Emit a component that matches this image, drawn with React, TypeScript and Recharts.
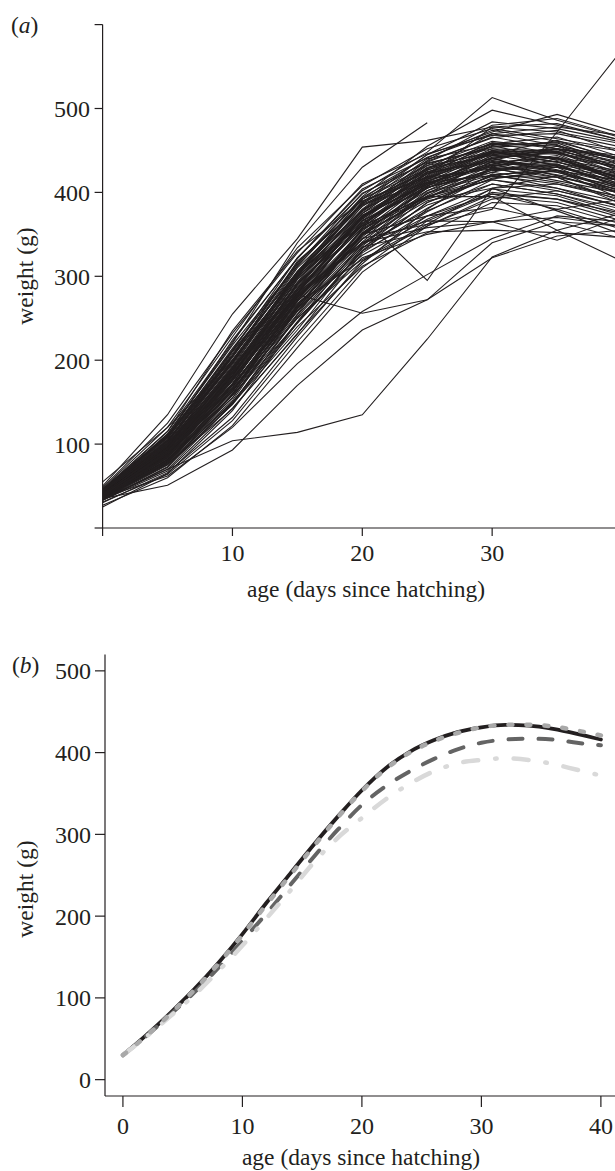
import React from "react";
import { Line, LineChart, XAxis, YAxis } from "recharts";

// panel (a): individual birds, weighed every 5 days
const days = [0, 5, 10, 15, 20, 25, 30, 35, 40];

const typicalBirds: number[][] = [
  [38, 92, 182, 280, 372, 416, 448, 436, 421],
  [42, 104, 196, 305, 378, 432, 447, 452, 426],
  [35, 78, 163, 261, 356, 398, 440, 427, 409],
  [40, 97, 187, 296, 368, 425, 436, 441, 412],
  [45, 112, 218, 314, 399, 436, 466, 452, 444],
  [33, 73, 148, 254, 336, 399, 421, 426, 392],
  [41, 86, 175, 271, 366, 405, 442, 448, 420],
  [37, 88, 162, 274, 351, 406, 424, 412, 394],
  [44, 102, 208, 306, 392, 428, 459, 455, 441],
  [36, 81, 152, 262, 341, 402, 428, 433, 405],
  [39, 87, 181, 278, 371, 411, 433, 418, 403],
  [43, 100, 192, 302, 375, 429, 444, 446, 414],
  [34, 70, 148, 236, 334, 381, 422, 405, 388],
  [40, 95, 182, 292, 361, 414, 438, 455, 428],
  [46, 109, 224, 321, 404, 441, 474, 461, 449],
  [38, 89, 167, 276, 354, 412, 432, 437, 409],
  [41, 93, 191, 286, 379, 418, 450, 431, 408],
  [35, 84, 159, 266, 344, 406, 426, 430, 397],
  [39, 86, 179, 274, 364, 408, 444, 441, 431],
  [42, 105, 197, 306, 379, 434, 454, 457, 424],
  [37, 80, 171, 264, 356, 394, 429, 414, 399],
  [44, 110, 206, 316, 386, 440, 457, 459, 432],
  [36, 82, 155, 259, 338, 400, 424, 440, 417],
  [40, 91, 189, 283, 371, 412, 448, 436, 418],
  [33, 68, 143, 231, 328, 377, 415, 402, 383],
  [43, 101, 189, 299, 372, 424, 446, 462, 437],
  [38, 85, 177, 272, 366, 410, 441, 424, 405],
  [41, 99, 186, 297, 370, 427, 445, 449, 422],
  [45, 103, 211, 304, 389, 424, 456, 438, 423],
  [37, 87, 163, 270, 347, 408, 431, 442, 413],
  [39, 89, 185, 281, 369, 415, 449, 440, 425],
  [34, 78, 149, 252, 333, 395, 419, 418, 389],
  [42, 98, 199, 293, 384, 422, 458, 466, 442],
  [40, 94, 181, 290, 366, 423, 438, 430, 413],
  [36, 79, 166, 259, 349, 396, 433, 421, 408],
  [47, 120, 228, 334, 408, 452, 476, 464, 451],
  [38, 90, 172, 283, 358, 414, 434, 444, 415],
  [41, 92, 190, 285, 375, 417, 450, 447, 433],
  [35, 82, 155, 264, 349, 410, 433, 434, 405],
  [43, 101, 205, 300, 387, 426, 459, 446, 429],
  [30, 66, 132, 228, 318, 372, 404, 396, 372],
  [39, 93, 176, 285, 360, 418, 440, 452, 436],
  [44, 107, 203, 310, 383, 435, 452, 440, 412],
  [37, 84, 170, 267, 357, 402, 437, 426, 401],
  [48, 125, 232, 328, 410, 446, 468, 470, 454],
  [40, 88, 184, 279, 373, 409, 444, 433, 420],
  [36, 77, 160, 255, 351, 393, 427, 432, 410],
  [42, 97, 194, 301, 377, 430, 449, 441, 416],
  [31, 64, 128, 222, 310, 366, 398, 392, 375],
  [45, 108, 214, 312, 394, 437, 465, 474, 447],
  [38, 83, 168, 262, 352, 405, 436, 420, 398],
  [41, 96, 192, 288, 371, 422, 441, 448, 427],
  [27, 60, 122, 215, 305, 360, 395, 388, 366],
  [43, 104, 200, 303, 386, 419, 452, 449, 435],
  [39, 87, 172, 281, 358, 416, 430, 424, 402],
  [34, 75, 147, 245, 331, 388, 417, 426, 404],
  [46, 115, 222, 322, 398, 442, 470, 456, 438],
  [40, 90, 178, 277, 363, 407, 447, 451, 430],
  [36, 76, 150, 246, 340, 385, 410, 398, 380],
  [44, 106, 212, 316, 392, 432, 461, 452, 440],
  [38, 85, 170, 265, 345, 390, 405, 378, 350],
  [40, 92, 180, 275, 350, 372, 382, 365, 345],
  [35, 78, 158, 250, 322, 350, 365, 370, 360],
  [37, 80, 165, 258, 335, 353, 355, 352, 346],
  [42, 96, 188, 280, 340, 366, 365, 380, 392],
  [36, 80, 150, 240, 312, 352, 388, 384, 362],
  [39, 86, 170, 262, 325, 368, 400, 392, 370],
  [41, 90, 165, 250, 318, 360, 392, 402, 384],
  [37, 84, 158, 244, 330, 372, 398, 380, 356],
  [43, 98, 185, 276, 338, 378, 410, 398, 376],
  [40, 95, 178, 268, 320, 362, 405, 410, 392],
  [46, 110, 205, 300, 362, 420, 478, 482, 462],
  [44, 104, 198, 298, 380, 438, 480, 488, 466],
  [42, 100, 196, 302, 388, 445, 484, 476, 460],
  [38, 92, 184, 292, 375, 428, 470, 478, 468],
  [35, 76, 142, 232, 315, 380, 430, 452, 440],
  [40, 96, 205, 318, 385, 412, 420, 410, 395],
  [45, 115, 235, 330, 390, 418, 428, 418, 386],
  [39, 98, 210, 305, 360, 395, 415, 405, 382],
  [33, 72, 160, 272, 350, 392, 416, 426, 414],
];

const unusualBirds: (number | null)[][] = [
  [42, 112, 220, 340, 430, 483, null, null, null],
  [50, 135, 255, 345, 454, 462, 478, 472, 458],
  [45, 110, 212, 322, 402, 448, 513, 486, 465],
  [44, 108, 205, 312, 395, 455, 498, 480, 462],
  [43, 104, 200, 305, 392, 445, 472, 493, 470],
  [38, 85, 170, 270, 345, 362, 380, 472, 570],
  [40, 95, 190, 290, 370, 295, 405, 420, 400],
  [35, 70, 104, 114, 135, 225, 323, 355, 375],
  [40, 88, 172, 278, 256, 272, 340, 365, 360],
  [35, 51, 93, 170, 236, 272, 322, 348, 355],
  [36, 62, 120, 196, 258, 302, 345, 372, 365],
  [41, 94, 185, 285, 360, 395, 395, 355, 318],
  [39, 90, 176, 278, 340, 358, 365, 343, 371],
  [55, 120, 200, 290, 370, 420, 455, 460, 440],
  [25, 65, 140, 245, 330, 388, 420, 430, 418],
];

// panel (b): fitted mean curves
const ageFit = [0, 2, 4, 6, 8, 10, 12, 14, 16, 18, 20, 22, 24, 26, 28, 30, 32, 34, 36, 38, 40];
const fitSolid = [30, 55, 82, 111, 143, 178, 216, 252, 288, 322, 354, 381, 401, 415, 425, 431, 434, 433, 429, 423, 416];
const fitDashed = [30, 54, 80, 107, 137, 170, 203, 238, 273, 306, 336, 359, 377, 392, 404, 412, 416, 417, 416, 412, 409];
const fitDashDot = [30, 53, 78, 104, 133, 164, 197, 231, 266, 296, 320, 343, 362, 377, 387, 391, 393, 391, 386, 379, 372];
const fitDotted = [30, 54, 81, 110, 142, 177, 214, 250, 286, 321, 353, 380, 400, 414, 424, 431, 434, 434, 432, 427, 421];

const ink = "#231f20";
const serif = "'Liberation Serif', 'DejaVu Serif', serif";
const fontSize = 23.5;

const allBirds = [...typicalBirds, ...unusualBirds];
const dataA = days.map((day, i) => {
  const row: Record<string, number | null> = { day };
  allBirds.forEach((w, j) => {
    row[`b${j}`] = w[i];
  });
  return row;
});

const dataB = ageFit.map((age, i) => ({
  age,
  solid: fitSolid[i],
  dashed: fitDashed[i],
  dashdot: fitDashDot[i],
  dotted: fitDotted[i],
}));

const axisStyle = { stroke: ink, strokeWidth: 1.2 };
const tickStyle = { fontSize: 24, fill: ink, fontFamily: serif };

export default function App() {
  return (
    <div
      style={{
        position: "absolute",
        left: 0,
        top: 0,
        width: 615,
        height: 1171,
        overflow: "hidden",
        background: "#fff",
      }}
    >
      <div style={{ position: "absolute", left: 0, top: 0 }}>
        <LineChart
          width={632}
          height={568}
          data={dataA}
          margin={{ top: 24.6, right: 10, bottom: 0, left: 42.6 }}
        >
          <XAxis
            type="number"
            dataKey="day"
            domain={[0, 40]}
            ticks={[0, 10, 20, 30, 40]}
            tickFormatter={(v) => (v === 0 || v === 40 ? "" : String(v))}
            tickSize={8}
            tickMargin={8}
            height={40}
            axisLine={axisStyle}
            tickLine={axisStyle}
            tick={tickStyle}
          />
          <YAxis
            type="number"
            domain={[0, 600]}
            ticks={[0, 100, 200, 300, 400, 500, 600]}
            tickFormatter={(v) => (v === 0 || v === 600 ? "" : String(v))}
            tickSize={8}
            tickMargin={4.5}
            width={60}
            axisLine={axisStyle}
            tickLine={axisStyle}
            tick={tickStyle}
          />
          {allBirds.map((_, j) => (
            <Line
              key={j}
              type="linear"
              dataKey={`b${j}`}
              stroke={ink}
              strokeWidth={1.1}
              dot={false}
              activeDot={false}
              isAnimationActive={false}
            />
          ))}
        </LineChart>
      </div>

      <div style={{ position: "absolute", left: 0, top: 600 }}>
        <LineChart
          width={630}
          height={546}
          data={dataB}
          margin={{ top: 54.5, right: 10, bottom: 0, left: 45 }}
        >
          <XAxis
            type="number"
            dataKey="age"
            domain={[-1.5, 41.6]}
            ticks={[0, 10, 20, 30, 40]}
            tickSize={11}
            tickMargin={10}
            height={50}
            axisLine={axisStyle}
            tickLine={axisStyle}
            tick={tickStyle}
          />
          <YAxis
            type="number"
            domain={[-20, 520]}
            ticks={[0, 100, 200, 300, 400, 500]}
            tickSize={10}
            tickMargin={4}
            width={60}
            axisLine={axisStyle}
            tickLine={axisStyle}
            tick={tickStyle}
          />
          <Line
            type="monotone"
            dataKey="solid"
            stroke={ink}
            strokeWidth={3.8}
            strokeLinecap="round"
            dot={false}
            activeDot={false}
            isAnimationActive={false}
          />
          <Line
            type="monotone"
            dataKey="dashed"
            stroke="#646464"
            strokeWidth={4}
            strokeLinecap="round"
            strokeDasharray="14 16"
            dot={false}
            activeDot={false}
            isAnimationActive={false}
          />
          <Line
            type="monotone"
            dataKey="dashdot"
            stroke="#d9d9d9"
            strokeWidth={4.5}
            strokeLinecap="round"
            strokeDasharray="15 17 1.5 17"
            dot={false}
            activeDot={false}
            isAnimationActive={false}
          />
          <Line
            type="monotone"
            dataKey="dotted"
            stroke="#a9a9a9"
            strokeWidth={4.5}
            strokeLinecap="round"
            strokeDasharray="4 14"
            dot={false}
            activeDot={false}
            isAnimationActive={false}
          />
        </LineChart>
      </div>

      <svg
        width={615}
        height={1171}
        style={{ position: "absolute", left: 0, top: 0, pointerEvents: "none" }}
      >
        <g fontFamily={serif} fontSize={fontSize} fill={ink}>
          <text x={11} y={32.5}>
            (<tspan fontStyle="italic">a</tspan>)
          </text>
          <text x={12} y={672.5}>
            (<tspan fontStyle="italic">b</tspan>)
          </text>
          <text x={366} y={597} textAnchor="middle">
            age (days since hatching)
          </text>
          <text x={361} y={1165} textAnchor="middle">
            age (days since hatching)
          </text>
          <text x={33} y={276} textAnchor="middle" transform="rotate(-90 33 276)">
            weight (g)
          </text>
          <text x={33} y={889} textAnchor="middle" transform="rotate(-90 33 889)">
            weight (g)
          </text>
        </g>
      </svg>
    </div>
  );
}
